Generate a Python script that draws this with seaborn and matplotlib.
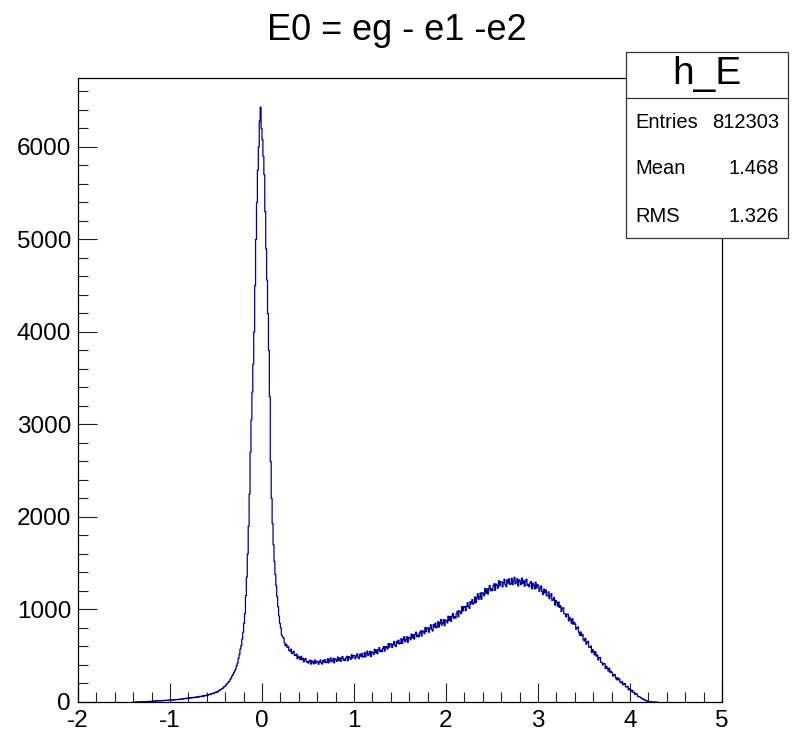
import numpy as np
import pandas as pd
import matplotlib
matplotlib.use("Agg")
import matplotlib.pyplot as plt
from matplotlib.patches import Rectangle
from matplotlib.lines import Line2D
import seaborn as sns

# ---------------- data (bin contents, bin width 0.01, first bin edge -1.40) ----------------
first_edge = -1.40
bin_width = 0.01
counts = [
    0, 1, 0, 0, 2, 1, 0, 3, 1, 2,                      # -1.40
    3, 2, 5, 3, 4, 6, 4, 7, 5, 8,                      # -1.30
    9, 7, 11, 8, 12, 10, 13, 11, 14, 12,               # -1.20
    15, 13, 17, 14, 18, 16, 19, 17, 21, 18,            # -1.10
    22, 20, 24, 21, 26, 23, 27, 25, 28, 26,            # -1.00
    30, 28, 33, 31, 36, 34, 39, 37, 42, 40,            # -0.90
    44, 41, 47, 43, 49, 46, 52, 48, 54, 51,            # -0.80
    57, 54, 61, 58, 64, 60, 68, 64, 72, 69,            # -0.70
    77, 74, 82, 85, 81, 90, 94, 91, 100, 104,          # -0.60
    110, 106, 120, 122, 131, 135, 146, 148, 163, 166,  # -0.50
    178, 193, 198, 215, 223, 243, 256, 281, 296, 318,  # -0.40
    337, 356, 394, 421, 470, 515, 571, 610, 682, 755,  # -0.30
    850, 955, 1150, 1350, 1600, 1900, 2250, 2700, 3050, 3350,  # -0.20
    3650, 4000, 4500, 5000, 5400, 5750, 6000, 6280, 6430, 6200,  # -0.10
    6080, 5900, 5700, 5300, 4900, 4560, 4200, 3800, 3300, 2600,  # 0.00
    2200, 1930, 1700, 1520, 1380, 1260, 1140, 1030, 930, 850,    # 0.10
    801, 725, 704, 692, 640, 609, 623, 592, 598, 558,  # 0.20
    549, 571, 524, 539, 549, 503, 505, 518, 468, 496,  # 0.30
    483, 459, 493, 458, 473, 434, 460, 471, 433, 438,  # 0.40
    420, 444, 453, 410, 443, 432, 413, 453, 420, 441,  # 0.50
    438, 408, 433, 454, 422, 410, 450, 433, 457, 425,  # 0.60
    427, 467, 423, 453, 477, 434, 447, 472, 423, 465,  # 0.70
    459, 439, 485, 452, 476, 438, 474, 492, 452, 463,  # 0.80
    447, 479, 494, 447, 490, 481, 461, 511, 476, 503,  # 0.90
    502, 467, 497, 520, 483, 469, 517, 496, 524, 486,  # 1.00
    491, 536, 487, 523, 550, 502, 518, 547, 492, 541,  # 1.10
    534, 513, 569, 532, 563, 522, 565, 588, 544, 559,  # 1.20
    544, 582, 600, 550, 600, 592, 572, 632, 593, 626,  # 1.30
    628, 589, 624, 654, 614, 600, 656, 634, 668, 627,  # 1.40
    634, 686, 632, 673, 706, 652, 671, 705, 645, 700,  # 1.50
    695, 672, 734, 693, 727, 681, 730, 755, 706, 723,  # 1.60
    705, 749, 769, 713, 769, 761, 738, 805, 761, 799,  # 1.70
    802, 754, 798, 835, 785, 767, 837, 810, 853, 801,  # 1.80
    812, 869, 810, 855, 892, 832, 854, 891, 825, 886,  # 1.90
    880, 855, 927, 882, 922, 872, 928, 957, 905, 924,  # 2.00
    907, 957, 982, 921, 986, 978, 955, 1031, 985, 1028,          # 2.10
    1032, 987, 1034, 1074, 1027, 1012, 1085, 1061, 1107, 1058,   # 2.20
    1070, 1136, 1074, 1127, 1170, 1108, 1135, 1179, 1109, 1180,  # 2.30
    1176, 1148, 1227, 1178, 1221, 1167, 1227, 1260, 1202, 1223,  # 2.40
    1204, 1255, 1278, 1207, 1274, 1261, 1231, 1311, 1256, 1300,  # 2.50
    1299, 1244, 1289, 1327, 1268, 1246, 1320, 1287, 1331, 1272,  # 2.60
    1280, 1338, 1268, 1313, 1348, 1278, 1297, 1333, 1255, 1318,  # 2.70
    1306, 1269, 1339, 1281, 1315, 1252, 1303, 1327, 1260, 1272,  # 2.80
    1244, 1287, 1302, 1223, 1282, 1261, 1223, 1295, 1232, 1268,  # 2.90
    1257, 1197, 1229, 1254, 1192, 1162, 1220, 1181, 1212, 1148,  # 3.00
    1147, 1191, 1117, 1149, 1171, 1098, 1105, 1129, 1048, 1096,  # 3.10
    1075, 1035, 1081, 1023, 1041, 978, 1011, 1019, 954, 954,     # 3.20
    920, 947, 950, 877, 916, 891, 851, 901, 840, 861,  # 3.30
    843, 785, 801, 812, 753, 720, 757, 716, 731, 671,  # 3.40
    661, 690, 625, 645, 656, 592, 592, 605, 534, 567,  # 3.50
    544, 510, 543, 496, 507, 455, 478, 482, 429, 426,  # 3.60
    400, 415, 414, 362, 385, 365, 335, 365, 321, 332,  # 3.70
    316, 281, 291, 298, 261, 241, 264, 239, 249, 212,  # 3.80
    208, 221, 186, 195, 199, 165, 163, 168, 131, 145,  # 3.90
    132, 114, 127, 103, 106, 82, 89, 88, 63, 59,       # 4.00
    57, 46, 44, 33, 31, 23, 21, 14, 12, 7,             # 4.10
    6, 4, 3, 2, 1, 1, 0, 0, 0, 0,                      # 4.20
]

title = "E0 = eg - e1 -e2"
hist_name = "h_E"
stat_labels = ["Entries", "Mean", "RMS"]
stat_values = ["812303", "1.468", "1.326"]
x_ticks = [-2, -1, 0, 1, 2, 3, 4, 5]
y_ticks = [0, 1000, 2000, 3000, 4000, 5000, 6000]

# ---------------- build frame ----------------
n = len(counts)
centers = np.round(first_edge + bin_width * (np.arange(n) + 0.5), 4)
df = pd.DataFrame({"E": centers, "count": np.asarray(counts, dtype=float)})

sns.set_theme(style="ticks")
plt.rcParams["font.family"] = ["Liberation Sans", "DejaVu Sans"]
plt.rcParams["text.color"] = "black"

fig = plt.figure(figsize=(7.94, 7.33), dpi=100)
ax = fig.add_axes([78 / 794, 1 - 702 / 733, (722 - 78) / 794, (702 - 78) / 733])

sns.histplot(data=df, x="E", weights="count", binwidth=bin_width,
             binrange=(first_edge, first_edge + bin_width * n), element="step",
             fill=False, color="#000099", linewidth=0.9, ax=ax)

ax.set_xlim(-2, 5)
ax.set_ylim(0, 6745)
ax.set_xlabel("")
ax.set_ylabel("")
ax.set_xticks(x_ticks)
ax.set_xticklabels([str(t) for t in x_ticks])
ax.set_yticks(y_ticks)
ax.set_yticklabels([str(t) for t in y_ticks])
ax.set_xticks(np.arange(-2, 5.001, 0.2), minor=True)
ax.set_yticks(np.arange(0, 6745, 200), minor=True)

ax.tick_params(axis="both", which="major", direction="in", length=13.5, width=0.8,
               color="#222222", labelsize=17.5, labelcolor="black")
ax.tick_params(axis="both", which="minor", direction="in", length=7, width=0.8,
               color="#222222")
ax.tick_params(axis="x", which="both", top=False, pad=6)
ax.tick_params(axis="y", which="both", right=False, pad=5)
for s in ax.spines.values():
    s.set_color("black")
    s.set_linewidth(0.9)
    s.set_visible(True)

fig.text(397 / 794, 1 - 30 / 733, title, ha="center", va="center", fontsize=26,
         color="black")

# ---------------- stats box ----------------
bx0, bx1 = 626 / 794, 788 / 794
by0, by1 = 1 - 238 / 733, 1 - 52 / 733
fig.patches.append(Rectangle((bx0, by0), bx1 - bx0, by1 - by0, transform=fig.transFigure,
                             facecolor="white", edgecolor="#333333", linewidth=0.9, zorder=10))
sep_y = 1 - 98 / 733
fig.lines.append(Line2D([bx0, bx1], [sep_y, sep_y], transform=fig.transFigure,
                        color="#333333", linewidth=0.9, zorder=11))
fig.text((bx0 + bx1) / 2, 1 - 74 / 733, hist_name, ha="center", va="center",
         fontsize=28, color="black", zorder=12)
rows_y = [122, 168, 217]
for lab, val, yy in zip(stat_labels, stat_values, rows_y):
    fig.text(635 / 794, 1 - yy / 733, lab, ha="left", va="center", fontsize=14.5,
             color="black", zorder=12)
    fig.text(779 / 794, 1 - yy / 733, val, ha="right", va="center", fontsize=14.5,
             color="black", zorder=12)

fig.savefig("out.png", dpi=100, facecolor="white")
